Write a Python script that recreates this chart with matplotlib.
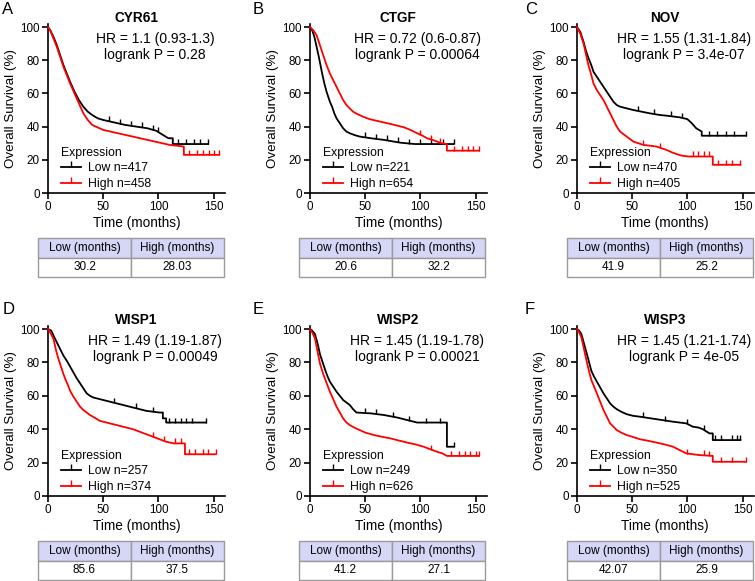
import numpy as np
import matplotlib.pyplot as plt
from matplotlib.lines import Line2D

plt.rcParams['font.family'] = ['Liberation Sans', 'DejaVu Sans']

# Подписи панелей
genes = ['CYR61', 'CTGF', 'NOV', 'WISP1', 'WISP2', 'WISP3']
letters = ['A', 'B', 'C', 'D', 'E', 'F']
hr_labels = ['HR = 1.1 (0.93-1.3)', 'HR = 0.72 (0.6-0.87)', 'HR = 1.55 (1.31-1.84)',
             'HR = 1.49 (1.19-1.87)', 'HR = 1.45 (1.19-1.78)', 'HR = 1.45 (1.21-1.74)']
logrank_p = ['0.28', '0.00064', '3.4e-07', '0.00049', '0.00021', '4e-05']
n_low = [417, 221, 470, 257, 249, 350]
n_high = [458, 654, 405, 374, 626, 525]
table_header = ['Low (months)', 'High (months)']
median_low = ['30.2', '20.6', '41.9', '85.6', '41.2', '42.07']
median_high = ['28.03', '32.2', '25.2', '37.5', '27.1', '25.9']

# Кривые Каплана-Мейера (время, мес. / выживаемость, %)
cyr61_low_t = [0, 2, 5, 8, 11, 14, 17, 20, 24, 28, 32, 36, 40, 45, 50, 60, 70, 80, 90, 98, 104, 109, 113, 113, 145]
cyr61_low_s = [100, 98, 94, 89, 83, 77, 72, 67, 61, 56, 52, 49, 47, 45, 44, 42.5, 41, 40, 39, 37.5, 35, 33, 33, 29.5, 29.5]
cyr61_high_t = [0, 2, 5, 8, 11, 14, 17, 20, 24, 28, 32, 36, 40, 45, 50, 60, 70, 80, 90, 100, 110, 123, 123, 155]
cyr61_high_s = [100, 98, 93, 88, 82, 76, 71, 66, 60, 54, 48, 44, 41, 39.5, 38, 36.5, 35, 33.5, 32, 30.5, 29, 28, 23, 23]

ctgf_low_t = [0, 2, 4, 6, 8, 11, 13, 15, 18, 20, 22, 24, 27, 30, 33, 36, 40, 45, 55, 67, 82, 95, 124, 130]
ctgf_low_s = [100, 98, 94, 88, 82, 72, 66, 61, 55, 52, 48, 45, 42, 39, 37, 36, 35, 34, 33, 32, 30.3, 29.5, 29.5, 29.5]
ctgf_high_t = [0, 3, 6, 9, 12, 15, 18, 21, 24, 27, 30, 33, 36, 39, 43, 48, 54, 61, 67, 73, 79, 85, 91, 97, 102, 106, 111, 115, 119, 124, 124, 153]
ctgf_high_s = [100, 98, 95, 89, 83, 77, 72, 68, 64, 60, 56, 53, 51, 49, 47.5, 46, 44.5, 43.4, 42.5, 41.6, 40.6, 39.6, 38, 36, 34.5, 33, 32, 31, 30, 29.5, 25.5, 25.5]

nov_low_t = [0, 3, 6, 8, 10, 13, 15, 18, 21, 24, 27, 30, 33, 36, 39, 45, 51, 60, 66, 75, 81, 93, 100, 104, 108, 113, 113, 153]
nov_low_s = [100, 97, 91, 86, 82, 77, 73, 70, 67, 64, 61, 58, 55, 53, 52, 51, 50, 48.8, 48, 47, 46.6, 45.6, 44.5, 42, 39, 37, 34.5, 34.5]
nov_high_t = [0, 3, 6, 8, 10, 13, 15, 18, 21, 24, 27, 30, 33, 36, 39, 42, 45, 48, 51, 60, 72, 81, 86, 90, 95, 101, 123, 123, 148]
nov_high_s = [100, 96, 90, 84, 78, 71, 66, 62, 59, 56, 52, 48, 44, 40, 37, 35.5, 34, 32.5, 31, 29, 28, 26, 24.5, 23.5, 22.5, 22, 22, 17, 17]

wisp1_low_t = [0, 3, 5, 8, 11, 14, 17, 20, 23, 26, 29, 32, 35, 38, 41, 47, 53, 59, 65, 71, 77, 83, 89, 95, 101, 104, 104, 107, 107, 143]
wisp1_low_s = [100, 99, 96, 92, 88, 84, 81, 77.5, 74, 70.5, 67.5, 64.5, 61.5, 60, 59, 58, 57, 56, 55, 54, 53, 52, 51, 50.5, 50, 50, 46.5, 46.5, 44, 44]
wisp1_high_t = [0, 2, 5, 7, 9, 11, 14, 16, 18, 20, 23, 26, 29, 32, 35, 38, 42, 47, 53, 59, 65, 71, 77, 83, 89, 95, 101, 107, 114, 124, 124, 152]
wisp1_high_s = [100, 98, 94, 88, 83, 79, 73, 69.5, 66.5, 63, 59.5, 56.5, 53.5, 51.5, 50, 48.5, 47, 45, 44, 43, 42, 41, 40, 38.5, 37, 35.5, 34, 32.5, 31.5, 31.5, 25, 25]

wisp2_low_t = [0, 2, 4.5, 7, 9, 12, 14, 16, 18, 21, 24, 27, 30, 33, 36, 39, 42, 55, 67, 79, 85, 91, 97, 124, 124, 130]
wisp2_low_s = [100, 99, 97, 91, 85, 79, 75, 71.5, 68.5, 65.5, 62.5, 60, 57.5, 56, 54.5, 52, 50, 49.5, 48.5, 47, 46, 45, 44, 44, 29.5, 29.5]
wisp2_high_t = [0, 2, 4.5, 7, 9, 12, 14, 16, 18, 21, 24, 27, 30, 33, 36, 40, 45, 50, 58, 65, 73, 80, 88, 95, 103, 109, 115, 120, 124, 153]
wisp2_high_s = [100, 98, 94.4, 86, 79.4, 73, 69.5, 66, 62.5, 58, 53.5, 50, 46.5, 44, 42.5, 41, 39.5, 38, 36.5, 35.5, 34.5, 33.3, 32, 31, 29.5, 28, 26.5, 25.5, 24, 24]

wisp3_low_t = [0, 2, 4, 6.5, 9, 11, 13, 15.5, 18, 21, 24, 27, 30, 33, 36, 40, 45, 51, 57, 65, 72, 80, 87, 93, 99, 105, 110, 114, 120, 123, 123, 148]
wisp3_low_s = [100, 99, 97, 91, 85, 80, 75, 71.5, 68.5, 65, 61.5, 58.5, 55.5, 53.5, 52, 50.5, 49, 48, 47.5, 46.7, 46, 45.2, 44.5, 44, 43.5, 41.5, 41, 40, 37.5, 37.5, 33.5, 33.5]
wisp3_high_t = [0, 2, 4, 6.5, 9, 11, 13, 15.5, 18, 21, 24, 27, 30, 33, 36, 40, 45, 51, 57, 65, 72, 80, 87, 93, 99, 111, 123, 123, 153]
wisp3_high_s = [100, 98, 95, 87.5, 80, 74.5, 69.5, 65.5, 61.5, 56.5, 51.5, 47.5, 43.5, 41.5, 39.5, 38, 36.5, 35.3, 34, 33, 32, 30.8, 29.5, 27.5, 25.5, 24.5, 24, 20.5, 20.5]

# Цензурированные наблюдения (мес.)
cyr61_low_cens = [55, 65, 75, 85, 95, 100, 118, 125, 132, 138, 145]
cyr61_high_cens = [128, 135, 140, 146, 150, 155]
ctgf_low_cens = [50, 60, 70, 80, 90, 100, 110, 120, 130]
ctgf_high_cens = [100, 110, 118, 130, 138, 143, 148, 153]
nov_low_cens = [55, 70, 85, 95, 120, 127, 135, 142, 153]
nov_high_cens = [60, 75, 105, 110, 115, 120, 128, 135, 140, 148]
wisp1_low_cens = [60, 80, 95, 110, 115, 120, 125, 130, 143]
wisp1_high_cens = [95, 105, 115, 120, 128, 133, 140, 145, 152]
wisp2_low_cens = [50, 60, 75, 90, 105, 118, 130]
wisp2_high_cens = [110, 128, 135, 140, 145, 150, 153]
wisp3_low_cens = [60, 80, 100, 115, 125, 130, 140, 145, 148]
wisp3_high_cens = [100, 115, 120, 130, 140, 153]

curves = [
    (cyr61_low_t, cyr61_low_s, cyr61_low_cens, cyr61_high_t, cyr61_high_s, cyr61_high_cens),
    (ctgf_low_t, ctgf_low_s, ctgf_low_cens, ctgf_high_t, ctgf_high_s, ctgf_high_cens),
    (nov_low_t, nov_low_s, nov_low_cens, nov_high_t, nov_high_s, nov_high_cens),
    (wisp1_low_t, wisp1_low_s, wisp1_low_cens, wisp1_high_t, wisp1_high_s, wisp1_high_cens),
    (wisp2_low_t, wisp2_low_s, wisp2_low_cens, wisp2_high_t, wisp2_high_s, wisp2_high_cens),
    (wisp3_low_t, wisp3_low_s, wisp3_low_cens, wisp3_high_t, wisp3_high_s, wisp3_high_cens),
]

fig = plt.figure(figsize=(7.55, 5.81), dpi=100)

ax_left = [0.0636, 0.4106, 0.7642]
ax_bottom = [0.6678, 0.1463]
ax_height = [0.2914, 0.2931]
tab_left = [0.0503, 0.3960, 0.7510]
tab_bottom = [0.5232, 0.0017]
tab_height = [0.0671, 0.0671]
letter_x = [0.003, 0.334, 0.695]
letter_y = [0.983, 0.468]

for i in range(6):
    row, col = i // 3, i % 3
    ax = fig.add_axes([ax_left[col], ax_bottom[row], 0.234, ax_height[row]])
    lt, ls, lc, ht, hs, hc = curves[i]

    for t, s, c, color in [(lt, ls, lc, 'black'), (ht, hs, hc, '#ff0000')]:
        ax.plot(t, s, color=color, lw=1.3, clip_on=False, zorder=3)
        ax.plot(c, np.interp(c, t, s), linestyle='none', marker=2, color=color,
                ms=3.5, mew=1.0, zorder=3)

    ax.set_xlim(0, 160)
    ax.set_ylim(0, 102)
    ax.set_xticks([0, 50, 100, 150])
    ax.set_yticks([0, 20, 40, 60, 80, 100])
    ax.spines['top'].set_visible(False)
    ax.spines['right'].set_visible(False)
    ax.spines['left'].set_linewidth(1.2)
    ax.spines['bottom'].set_linewidth(1.2)
    ax.tick_params(direction='out', length=4, width=1.2, labelsize=8.4, pad=2)
    ax.set_xlabel('Time (months)', fontsize=9.8, labelpad=2)
    ax.set_ylabel('Overall Survival (%)', fontsize=9.6, labelpad=2)

    ax.text(80, 105.5, genes[i], ha='center', va='center', fontsize=9.8, fontweight='bold')
    ax.text(97, 93, hr_labels[i], ha='center', va='center', fontsize=10)
    ax.text(97, 83, 'logrank P = ' + logrank_p[i], ha='center', va='center', fontsize=10)

    handles = [Line2D([], [], color='black', lw=1.3, marker=2, ms=4),
               Line2D([], [], color='#ff0000', lw=1.3, marker=2, ms=4)]
    leg = ax.legend(handles, ['Low n=%d' % n_low[i], 'High n=%d' % n_high[i]],
                    title='Expression', loc='lower left', bbox_to_anchor=(0.02, -0.04),
                    frameon=False, fontsize=8.8, title_fontsize=8.8, numpoints=1,
                    handlelength=1.6, handletextpad=0.6, labelspacing=0.3, borderpad=0.3)
    leg._legend_box.align = 'left'

    fig.text(letter_x[col], letter_y[row], letters[i], fontsize=12, va='center', ha='left')

    tax = fig.add_axes([tab_left[col], tab_bottom[row], 0.2464, tab_height[row]])
    tax.axis('off')
    tb = tax.table(cellText=[[median_low[i], median_high[i]]], colLabels=table_header,
                   cellLoc='center', bbox=[0, 0, 1, 1])
    tb.auto_set_font_size(False)
    tb.set_fontsize(8.5)
    for (r, c), cell in tb.get_celld().items():
        cell.set_edgecolor('#9a9a9a')
        cell.set_linewidth(1.0)
        cell.set_facecolor('#d6d6f7' if r == 0 else 'white')

plt.savefig('out.png', dpi=100)
